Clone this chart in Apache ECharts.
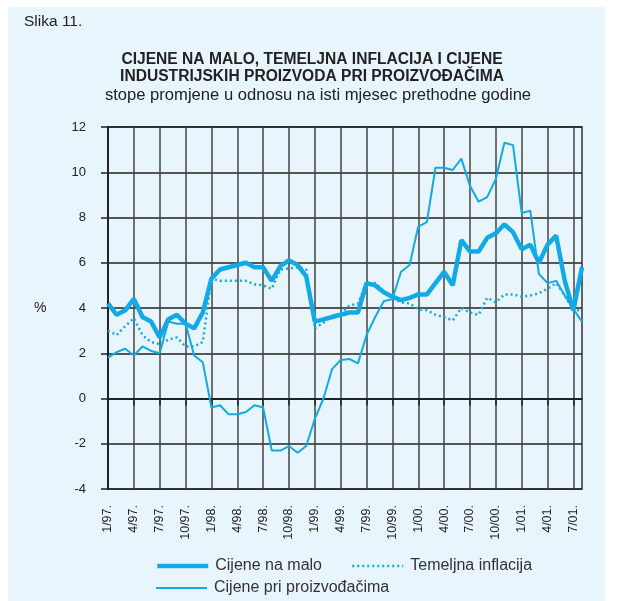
<!DOCTYPE html>
<html lang="hr">
<head>
<meta charset="UTF-8">
<title>Slika 11.</title>
<style>
  html, body { margin: 0; padding: 0; background: #fff; }
  #panel { position: absolute; left: 8px; top: 7px; width: 597px; height: 594px; background: #e9f5fc; }
  #chart { position: absolute; left: 0; top: 0; width: 617px; height: 601px; }
</style>
</head>
<body>
<div id="panel"></div>
<div id="chart"></div>
<script src="https://cdn.jsdelivr.net/npm/echarts@6/dist/echarts.min.js"></script>
<script>
// mjeseci od 1/97 do 8/01
var years = ['97', '98', '99', '00', '01'];
var months = [];
years.forEach(function (y) {
    for (var m = 1; m <= 12; m++) {
        if (y === '01' && m > 8) break;
        months.push(m + '/' + y + '.');
    }
});

var yTicks = [-4, -2, 0, 2, 4, 6, 8, 10, 12];

// Cijene na malo
var retail = [
    4.2, 3.7, 3.9, 4.4, 3.6, 3.4, 2.7, 3.5, 3.7, 3.3, 3.1, 3.8,
    5.3, 5.7, 5.8, 5.9, 6.0, 5.8, 5.8, 5.2, 5.85, 6.1, 5.9, 5.4,
    3.4, 3.5, 3.6, 3.7, 3.8, 3.8, 5.1, 5.0, 4.7, 4.5, 4.35, 4.45,
    4.6, 4.6, 5.1, 5.6, 5.0, 7.0, 6.5, 6.5, 7.1, 7.3, 7.7, 7.35,
    6.6, 6.8, 6.0, 6.8, 7.2, 5.2, 3.9, 5.8
];

// Temeljna inflacija
var core = [
    3.0, 2.8, 3.2, 3.55, 2.8, 2.5, 2.4, 2.6, 2.7, 2.3, 2.3, 2.5,
    5.3, 5.2, 5.2, 5.2, 5.2, 5.05, 5.0, 4.85, 5.7, 5.75, 5.8, 5.7,
    3.1, 3.35, 3.65, 3.75, 4.1, 4.2, 5.1, 5.1, 4.75, 4.45, 4.25, 4.2,
    3.95, 3.9, 3.7, 3.6, 3.45, 4.0, 3.8, 3.7, 4.45, 4.25, 4.6, 4.6,
    4.5, 4.55, 4.65, 4.85, 5.1, 4.55, 3.9, 3.9
];

// Cijene pri proizvođačima
var producer = [
    1.8, 2.05, 2.2, 1.9, 2.3, 2.1, 2.0, 3.4, 3.3, 3.3, 1.9, 1.6,
    -0.4, -0.3, -0.7, -0.7, -0.6, -0.3, -0.4, -2.3, -2.3, -2.1, -2.4, -2.1,
    -0.9, 0.0, 1.3, 1.7, 1.75, 1.55, 2.8, 3.6, 4.3, 4.4, 5.6, 5.9,
    7.6, 7.8, 10.2, 10.2, 10.1, 10.6, 9.4, 8.7, 8.9, 9.7, 11.3, 11.2,
    8.2, 8.3, 5.5, 5.1, 5.2, 4.55, 3.95, 3.4
];

var blue = '#12aae6';
var font = 'Liberation Sans, Arial, sans-serif';

var myChart = echarts.init(document.getElementById('chart'));

var legendText = { fontSize: 16, color: '#333', fontFamily: font, padding: [0, 0, 0, 2] };

var option = {
    backgroundColor: 'transparent',
    animation: false,
    textStyle: { fontFamily: font },
    graphic: [
        { type: 'text', left: 24, top: 14, style: { text: 'Slika 11.', font: '15.5px ' + font, fill: '#222' } },
        { type: 'text', x: 312, y: 52, style: { text: 'CIJENE NA MALO, TEMELJNA INFLACIJA I CIJENE', font: 'bold 15.6px ' + font, fill: '#222', textAlign: 'center' } },
        { type: 'text', x: 312, y: 69, style: { text: 'INDUSTRIJSKIH PROIZVODA PRI PROIZVOĐAČIMA', font: 'bold 15.6px ' + font, fill: '#222', textAlign: 'center' } },
        { type: 'text', x: 318, y: 87, style: { text: 'stope promjene u odnosu na isti mjesec prethodne godine', font: '16.6px ' + font, fill: '#222', textAlign: 'center' } },
        { type: 'text', x: 34, y: 301, style: { text: '%', font: '14px ' + font, fill: '#222' } }
    ],
    grid: {
        left: 108, top: 127, right: 35, bottom: 112,
        show: true, borderColor: '#333', borderWidth: 1.5
    },
    legend: [
        {
            data: [
                { name: 'Cijene na malo', lineStyle: { width: 4.5 } },
                { name: 'Temeljna inflacija', lineStyle: { width: 2.5 } }
            ],
            left: 155, top: 558, padding: 0, itemWidth: 51, itemHeight: 14, itemGap: 29,
            itemStyle: { opacity: 0 },
            textStyle: legendText
        },
        {
            data: [{ name: 'Cijene pri proizvođačima', lineStyle: { width: 2 } }],
            left: 155, top: 580, padding: 0, itemWidth: 51, itemHeight: 14,
            itemStyle: { opacity: 0 },
            textStyle: legendText
        }
    ],
    xAxis: {
        type: 'category',
        boundaryGap: false,
        data: months,
        axisLine: { lineStyle: { color: '#222', width: 2 } },
        axisTick: { show: true, interval: 2, length: 7, lineStyle: { color: '#222', width: 1.5 } },
        axisLabel: { interval: 2, rotate: 90, margin: 16, fontSize: 12.5, color: '#222', fontFamily: font },
        splitLine: { show: true, interval: 2, lineStyle: { color: '#444', width: 1.5 } }
    },
    yAxis: {
        type: 'value',
        min: yTicks[0], max: yTicks[yTicks.length - 1], interval: 2,
        axisLine: { show: true, lineStyle: { color: '#222', width: 2 } },
        axisTick: { show: true, length: 7, lineStyle: { color: '#222', width: 1.5 } },
        axisLabel: { margin: 22, fontSize: 13, color: '#222', fontFamily: font },
        splitLine: { lineStyle: { color: '#222', width: 1.5 } }
    },
    series: [
        {
            name: 'Cijene na malo', type: 'line', data: retail, symbol: 'none', z: 4,
            lineStyle: { color: blue, width: 4.5 }, itemStyle: { color: blue }
        },
        {
            name: 'Temeljna inflacija', type: 'line', data: core, symbol: 'none', z: 3,
            lineStyle: { color: blue, width: 2.5, type: [2, 3] }, itemStyle: { color: blue }
        },
        {
            name: 'Cijene pri proizvođačima', type: 'line', data: producer, symbol: 'none', z: 2,
            lineStyle: { color: blue, width: 2 }, itemStyle: { color: blue }
        }
    ]
};

myChart.setOption(option);
</script>
</body>
</html>
